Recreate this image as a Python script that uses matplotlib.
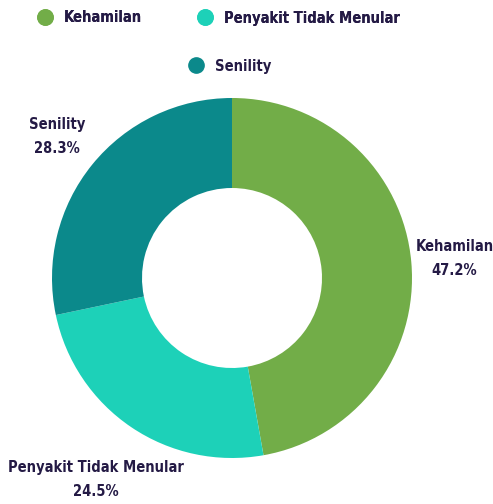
import numpy as np
import matplotlib
matplotlib.use("Agg")
import matplotlib.pyplot as plt
from matplotlib.lines import Line2D

categories = ["Kehamilan", "Penyakit Tidak Menular", "Senility"]
values = [47.2, 24.5, 28.3]
colors = ["#72ad48", "#1dd1b8", "#0b898b"]
label_dist = [1.24, 1.35, 1.25]

TXT = "#241a45"
FONT = ["DejaVu Sans", "Liberation Sans"]
FP = dict(family=FONT, weight="bold", size=10.5, stretch="condensed")

fig = plt.figure(figsize=(4.93, 5.04), dpi=100)
W, H = 493, 504
cx, cy, R = 232, 504 - 278, 180
lim = 1.3
half = lim * R
ax = fig.add_axes([(cx - half) / W, (cy - half) / H, 2 * half / W, 2 * half / H])

wedges, _ = ax.pie(values, colors=colors, startangle=90, counterclock=False,
                   radius=1.0, wedgeprops=dict(width=0.5, edgecolor="none"))
ax.set_xlim(-lim, lim)
ax.set_ylim(-lim, lim)
ax.set_aspect("equal")
ax.axis("off")

total = sum(values)
cum = 0
for cat, v, d in zip(categories, values, label_dist):
    mid = (cum + v / 2) / total * 360
    cum += v
    ang = np.deg2rad(90 - mid)
    x, y = d * np.cos(ang), d * np.sin(ang)
    ax.text(x, y, f"{cat}\n{v:.1f}%", ha="center", va="center", color=TXT,
            fontsize=FP["size"], fontweight="bold", family=FONT,
            fontstretch="condensed", linespacing=1.75, clip_on=False)

def handle(c):
    return Line2D([], [], marker="o", linestyle="none", markersize=11,
                  markerfacecolor=c, markeredgecolor=c)

leg1 = fig.legend([handle(colors[0]), handle(colors[1])], categories[:2],
                  loc="center", bbox_to_anchor=(215 / W, 1 - 18 / H), ncol=2,
                  frameon=False, handletextpad=0.3, columnspacing=3.35,
                  prop=FP)
leg2 = fig.legend([handle(colors[2])], categories[2:],
                  loc="center", bbox_to_anchor=(226 / W, 1 - 66 / H), ncol=1,
                  frameon=False, handletextpad=0.3, prop=FP)
for leg in (leg1, leg2):
    for t in leg.get_texts():
        t.set_color(TXT)
fig.add_artist(leg1)

fig.savefig("out.png", dpi=100, facecolor="white")
